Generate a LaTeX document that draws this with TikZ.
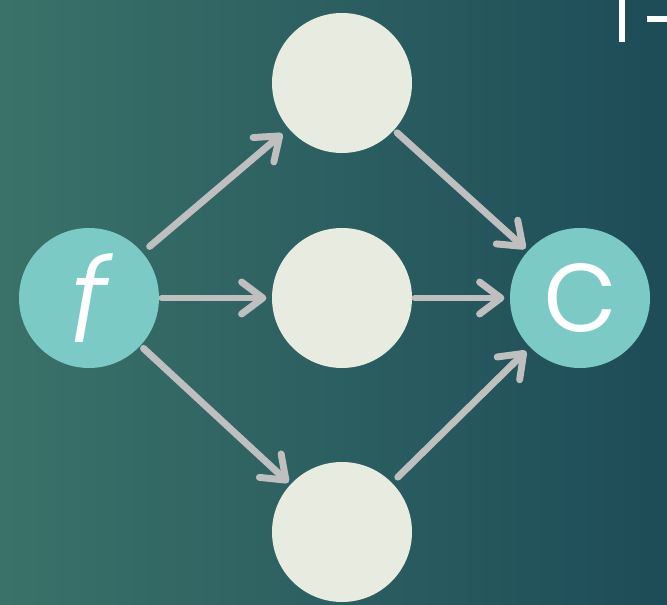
\documentclass[tikz,border=0pt]{standalone}
\usepackage{fontspec}
\newfontfamily\labelfont{Poppins Light}
\newfontfamily\labelfontit{Poppins Light Italic}
\usetikzlibrary{arrows.meta}
\definecolor{bgL}{HTML}{3A7269}
\definecolor{bgR}{HTML}{1D4C58}
\definecolor{cream}{HTML}{E8EBE0}
\definecolor{tealc}{HTML}{7BCAC5}
\definecolor{arrowgray}{HTML}{BFBFBF}
\tikzset{
  cnode/.style={circle, fill=cream, minimum size=105pt, inner sep=0pt},
  tnode/.style={circle, fill=tealc, minimum size=105pt, inner sep=0pt, text=white},
  flow/.style={draw=arrowgray, line width=5.2pt, line cap=round,
    -{Straight Barb[length=16pt,width=24pt,round]}},
}
\begin{document}
\begin{tikzpicture}[x=0.75pt,y=-0.75pt]
\useasboundingbox (0,0) rectangle (667,605);
\shade[left color=bgL, right color=bgR] (0,0) rectangle (667,605);
% clipped title fragments
\fill[white] (618.5,0) rectangle (625,41.7);
\fill[white] (646.7,15.7) rectangle (667,21.7);
\node[tnode] (f) at (89,298) {\labelfontit\fontsize{88}{88}\selectfont f};
\node[tnode] (c) at (580,298) {\labelfont\fontsize{92}{92}\selectfont c};
\node[cnode] (t) at (342,83) {};
\node[cnode] (m) at (342,298) {};
\node[cnode] (b) at (342,532) {};
\draw[flow, shorten <=7pt, shorten >=6pt] (f) -- (t);
\draw[flow, shorten <=2pt, shorten >=4pt] (f) -- (m);
\draw[flow, shorten <=3pt, shorten >=2pt] (f) -- (b);
\draw[flow, shorten <=3pt, shorten >=2.5pt] (t) -- (c);
\draw[flow, shorten <=2pt, shorten >=4pt] (m) -- (c);
\draw[flow, shorten <=6pt, shorten >=4pt] (b) -- (c);
\end{tikzpicture}
\end{document}
